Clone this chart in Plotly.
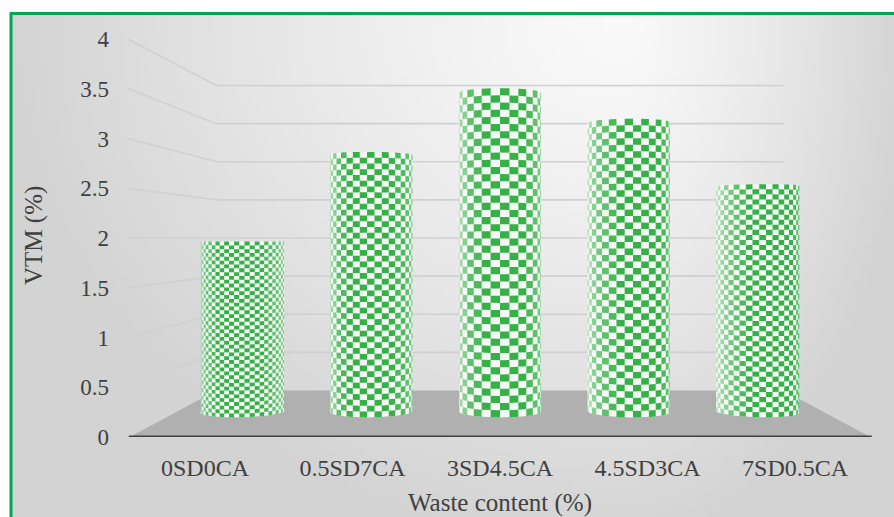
import base64
import struct
import zlib

import numpy as np
import plotly.graph_objects as go

# ---------------- data ----------------
categories = ["0SD0CA", "0.5SD7CA", "3SD4.5CA", "4.5SD3CA", "7SD0.5CA"]
vtm = [1.96, 2.96, 3.67, 3.33, 2.60]
y_tick_vals = [0, 0.5, 1, 1.5, 2, 2.5, 3, 3.5, 4]
y_tick_text = ["0", "0.5", "1", "1.5", "2", "2.5", "3", "3.5", "4"]
x_title = "Waste content (%)"
y_title = "VTM (%)"

# ---------------- style / geometry ----------------
FONT = "Times New Roman, Liberation Serif, DejaVu Serif, serif"
TXT = "#404040"
GREEN = (52, 178, 70)
W, H = 894, 517
ML, MR, MT, MB = 128, 10, 39, 80
XR = [-0.522, 4.603]
YR = [0, 4]

# simple perspective (vanishing point in data units, depth shrink factor)
VX, VY, K = 2.0, 2.0, 0.234
FLOOR_X = (-0.51, 4.51)
TC, RX, DT = 0.55, 0.319, 0.129
ROWS = 46


def proj(X, V, T):
    s = 1 - K * T
    return VX + (X - VX) * s, VY + (V - VY) * s


def px_to_paper_x(px):
    return (px - ML) / (W - ML - MR)


def px_to_paper_y(py):
    return (H - MB - py) / (H - MT - MB)


def png_data_uri(w, h, func):
    raw = bytearray()
    for j in range(h):
        raw.append(0)
        for i in range(w):
            c = func(i, j)
            raw += bytes((c, c, c))

    def chunk(tag, data):
        return (struct.pack(">I", len(data)) + tag + data
                + struct.pack(">I", zlib.crc32(tag + data) & 0xFFFFFFFF))

    png = (b"\x89PNG\r\n\x1a\n"
           + chunk(b"IHDR", struct.pack(">IIBBBBB", w, h, 8, 2, 0, 0, 0))
           + chunk(b"IDAT", zlib.compress(bytes(raw)))
           + chunk(b"IEND", b""))
    return "data:image/png;base64," + base64.b64encode(png).decode()


BG_X0, BG_Y0, BG_X1, BG_Y1 = 11, 13, 894, 517
GW, GH = 177, 101


def grad(i, j):
    px = BG_X0 + (i + 0.5) * (BG_X1 - BG_X0) / GW
    py = BG_Y0 + (j + 0.5) * (BG_Y1 - BG_Y0) / GH
    ux = (px - 620) / (610 if px < 620 else 290)
    vy = (py - 20) / 500
    d = min(1.0, (ux * ux + (0.95 * vy) ** 2) ** 0.5)
    return int(round(249 - 38 * d ** 1.3))


fig = go.Figure()

# ---------------- floor, gridlines, axis line ----------------
shapes = []
x0f, x1f = FLOOR_X
fl = [proj(x0f, 0, 0), proj(x1f, 0, 0), proj(x1f, 0, 1), proj(x0f, 0, 1)]
shapes.append(dict(type="path", xref="x", yref="y", layer="below",
                   path="M " + " L ".join(f"{a:.4f},{b:.4f}" for a, b in fl) + " Z",
                   fillcolor="#b0b0b0", line=dict(width=0)))
for v in y_tick_vals[1:]:
    pts = [proj(XR[0], v, 0), proj(x0f, v, 1), proj(x1f, v, 1)]
    shapes.append(dict(type="path", xref="x", yref="y", layer="below",
                       path="M " + " L ".join(f"{a:.4f},{b:.4f}" for a, b in pts),
                       line=dict(color="#d0d0d0", width=1.6)))
shapes.append(dict(type="line", xref="x", yref="y", layer="below",
                   x0=XR[0] + 0.005, x1=x1f + 0.01, y0=0, y1=0,
                   line=dict(color="#404040", width=3.2)))
# green frame
shapes.append(dict(type="rect", xref="paper", yref="paper", layer="below",
                   x0=px_to_paper_x(11), x1=px_to_paper_x(900),
                   y0=px_to_paper_y(530), y1=px_to_paper_y(13.5),
                   line=dict(color="#00a651", width=3), fillcolor="rgba(0,0,0,0)"))


# ---------------- cylinders ----------------
def mix(c, w):
    return tuple(int(round(c[k] + (255 - c[k]) * w)) for k in range(3))


for i, v in enumerate(vtm):
    Xc = float(i)
    sgn = 1 if v >= VY else -1
    th = np.linspace(np.pi, 0, 40)
    xs, ys = [], []
    p = proj(Xc - RX, 0, TC); xs.append(p[0]); ys.append(p[1])
    for t in th:
        p = proj(Xc + RX * np.cos(t), v, TC - sgn * DT * np.sin(t))
        xs.append(p[0]); ys.append(p[1])
    for t in th[::-1]:
        p = proj(Xc + RX * np.cos(t), 0, TC - DT * np.sin(t))
        xs.append(p[0]); ys.append(p[1])
    fig.add_trace(go.Scatter(x=xs, y=ys, mode="lines", fill="toself",
                             fillcolor="#f7f7f7", line=dict(width=0),
                             hoverinfo="skip", showlegend=False))

    top_px = (proj(Xc, v, TC)[1] - proj(Xc, 0, TC)[1]) * (H - MT - MB) / 4
    row_h = top_px / ROWS
    r_px = RX * (1 - K * TC) * (W - ML - MR) / (XR[1] - XR[0])
    nc = int(round(np.pi * r_px / (1.3 * row_h) / 2)) * 2
    thetas = np.linspace(np.pi, 0, nc + 1)
    vals = np.linspace(0, v, ROWS + 1)
    bands = {}
    for c in range(nc):
        tm = 0.5 * (thetas[c] + thetas[c + 1])
        pc = np.cos(tm)
        w = 0.65 * max(0.0, -pc) ** 3 + 0.35 * max(0.0, pc) ** 5
        key = int(round(w * 10))
        b = bands.setdefault(key, ([], []))
        for r in range(ROWS):
            if (r + c) % 2:
                continue
            corners = [(thetas[c], vals[r]), (thetas[c + 1], vals[r]),
                       (thetas[c + 1], vals[r + 1]), (thetas[c], vals[r + 1])]
            for t, V in corners + [corners[0]]:
                q = proj(Xc + RX * np.cos(t), V, TC - DT * np.sin(t))
                b[0].append(q[0]); b[1].append(q[1])
            b[0].append(None); b[1].append(None)
    for key, (bx, by) in bands.items():
        col = mix(GREEN, key / 10)
        fig.add_trace(go.Scatter(x=bx, y=by, mode="lines", fill="toself",
                                 fillcolor=f"rgb{col}", line=dict(width=0),
                                 hoverinfo="skip", showlegend=False))

# ---------------- layout ----------------
fig.update_layout(
    width=W, height=H,
    margin=dict(l=ML, r=MR, t=MT, b=MB, pad=0),
    paper_bgcolor="white", plot_bgcolor="rgba(0,0,0,0)",
    font=dict(family=FONT, color=TXT, size=22),
    shapes=shapes,
    images=[dict(source=png_data_uri(GW, GH, grad), xref="paper", yref="paper",
                 x=px_to_paper_x(BG_X0), y=px_to_paper_y(BG_Y0),
                 sizex=px_to_paper_x(BG_X1) - px_to_paper_x(BG_X0),
                 sizey=px_to_paper_y(BG_Y0) - px_to_paper_y(BG_Y1),
                 xanchor="left", yanchor="top", sizing="stretch", layer="below")],
    xaxis=dict(range=XR, showgrid=False, zeroline=False, showline=False,
               tickmode="array", tickvals=list(range(len(categories))),
               ticktext=categories, ticks="", ticklabelstandoff=14,
               tickfont=dict(size=24, family=FONT, color=TXT), fixedrange=True),
    yaxis=dict(range=YR, showgrid=False, zeroline=False, showline=False,
               tickmode="array", tickvals=y_tick_vals, ticktext=y_tick_text,
               ticks="", ticklabelstandoff=18,
               tickfont=dict(size=23, family=FONT, color=TXT), fixedrange=True),
    annotations=[
        dict(text=x_title, xref="paper", yref="paper",
             x=px_to_paper_x(500), y=px_to_paper_y(503),
             xanchor="center", yanchor="middle",
             showarrow=False, font=dict(size=25, family=FONT, color=TXT)),
        dict(text=y_title, xref="paper", yref="paper", textangle=-90,
             x=px_to_paper_x(34), y=px_to_paper_y(236),
             xanchor="center", yanchor="middle",
             showarrow=False, font=dict(size=25, family=FONT, color=TXT)),
    ],
    showlegend=False,
)

fig.write_html("out.html")
